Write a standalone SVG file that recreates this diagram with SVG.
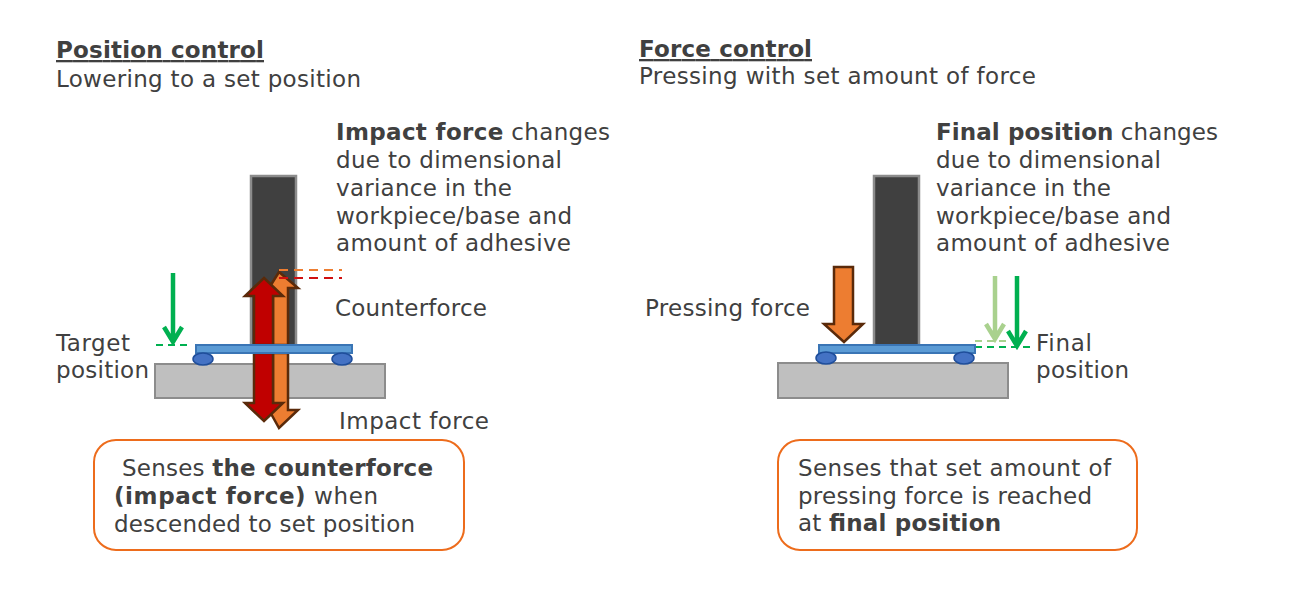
<svg xmlns="http://www.w3.org/2000/svg" width="1300" height="612" viewBox="0 0 1300 612">
<style>
text{font-family:"DejaVu Sans","Liberation Sans",sans-serif;font-size:23px;fill:#404040}
.b{font-weight:bold}
.u{text-decoration:underline;font-weight:bold}
.col{fill:#404040;stroke:#8c8c8c;stroke-width:2.5}
.base{fill:#bfbfbf;stroke:#8c8c8c;stroke-width:2}
.plate{fill:#5b9bd5;stroke:#3a75b5;stroke-width:2}
.foot{fill:#4472c4;stroke:#1f4e9b;stroke-width:1.5}
.red{fill:#c00000;stroke:#5a2a0a;stroke-width:2.5}
.or{fill:#ed7d31;stroke:#5a2a0a;stroke-width:2.5}
.box{fill:#fff;stroke:#ed6c1c;stroke-width:2}
.g{fill:none;stroke:#00b050;stroke-width:4.5}
.lg{fill:none;stroke:#a9d18e;stroke-width:4.5}
.gd{stroke:#00b050;stroke-width:2;stroke-dasharray:7 5;fill:none}
.lgd{stroke:#a9d18e;stroke-width:2;stroke-dasharray:7 5;fill:none}
</style>
<g id="left-title">
<text x="56" y="58" class="u" textLength="208">Position control</text>
<text x="56" y="87" textLength="305">Lowering to a set position</text>
</g>
<g id="left-note">
<text x="336" y="140" textLength="274"><tspan class="b">Impact force</tspan> changes</text>
<text x="336" y="168" textLength="226">due to dimensional</text>
<text x="336" y="196" textLength="176">variance in the</text>
<text x="336" y="224" textLength="236">workpiece/base and</text>
<text x="336" y="251" textLength="235">amount of adhesive</text>
</g>
<g id="left-base"><rect class="base" x="155" y="364" width="230" height="34"/></g>
<g id="left-column"><rect class="col" x="251" y="176" width="45" height="170"/></g>
<g id="connectors">
<path class="or" d="M279 272L298 288H288V345H273V288H269Z"/>
<path class="red" d="M264 278L283 296H273V345H254V296H245Z"/>
<path class="or" d="M273 353H288V410H298L279 428L269 410H273Z"/>
<path class="red" d="M254 353H273V403H283L264 421L245 403H254Z"/>
<path d="M279 270H342" fill="none" stroke="#ed7d31" stroke-width="2" stroke-dasharray="9 6"/>
<path d="M279 278H342" fill="none" stroke="#d01010" stroke-width="2" stroke-dasharray="9 6"/>
<path class="g" d="M173 273V341M164 327L173 342L182 327"/>
<path class="gd" d="M156 345H192"/>
<path class="or" d="M834 267H853V324H863L844 342L824 324H834Z"/>
<path class="lg" d="M995 276V338M986 324L995 339L1004 324"/>
<path class="lgd" d="M975 341H1008"/>
<path class="g" d="M1017 276V345M1008 331L1017 346L1026 331"/>
<path class="gd" d="M975 347H1030"/>
</g>
<g id="left-plate">
<rect class="plate" x="196" y="345" width="156" height="8"/>
<ellipse class="foot" cx="203" cy="359" rx="10" ry="6"/>
<ellipse class="foot" cx="342" cy="359" rx="10" ry="6"/>
</g>
<g id="left-labels">
<text x="335" y="316" textLength="152">Counterforce</text>
<text x="339" y="429" textLength="150">Impact force</text>
<text x="56" y="351" textLength="74">Target</text>
<text x="56" y="378" textLength="93">position</text>
</g>
<g id="left-box">
<rect class="box" x="94" y="440" width="370" height="110" rx="22"/>
<text x="122" y="476" textLength="311">Senses <tspan class="b">the counterforce</tspan></text>
<text x="114" y="504" textLength="264"><tspan class="b">(impact force)</tspan> when</text>
<text x="114" y="532" textLength="301">descended to set position</text>
</g>
<g id="right-title">
<text x="639" y="57" class="u" textLength="173">Force control</text>
<text x="639" y="84" textLength="397">Pressing with set amount of force</text>
</g>
<g id="right-note">
<text x="936" y="140" textLength="282"><tspan class="b">Final position</tspan> changes</text>
<text x="936" y="168" textLength="225">due to dimensional</text>
<text x="936" y="196" textLength="175">variance in the</text>
<text x="936" y="224" textLength="235">workpiece/base and</text>
<text x="936" y="251" textLength="234">amount of adhesive</text>
</g>
<g id="right-base"><rect class="base" x="778" y="363" width="230" height="35"/></g>
<g id="right-column"><rect class="col" x="874" y="176" width="45" height="170"/></g>
<g id="right-plate">
<rect class="plate" x="819" y="345" width="156" height="8"/>
<ellipse class="foot" cx="826" cy="358" rx="10" ry="6"/>
<ellipse class="foot" cx="964" cy="358" rx="10" ry="6"/>
</g>
<g id="right-labels">
<text x="645" y="316" textLength="165">Pressing force</text>
<text x="1036" y="351" textLength="56">Final</text>
<text x="1036" y="378" textLength="93">position</text>
</g>
<g id="right-box">
<rect class="box" x="778" y="440" width="359" height="110" rx="22"/>
<text x="798" y="476" textLength="313">Senses that set amount of</text>
<text x="798" y="504" textLength="294">pressing force is reached</text>
<text x="798" y="531" textLength="203">at <tspan class="b">final position</tspan></text>
</g>
</svg>
